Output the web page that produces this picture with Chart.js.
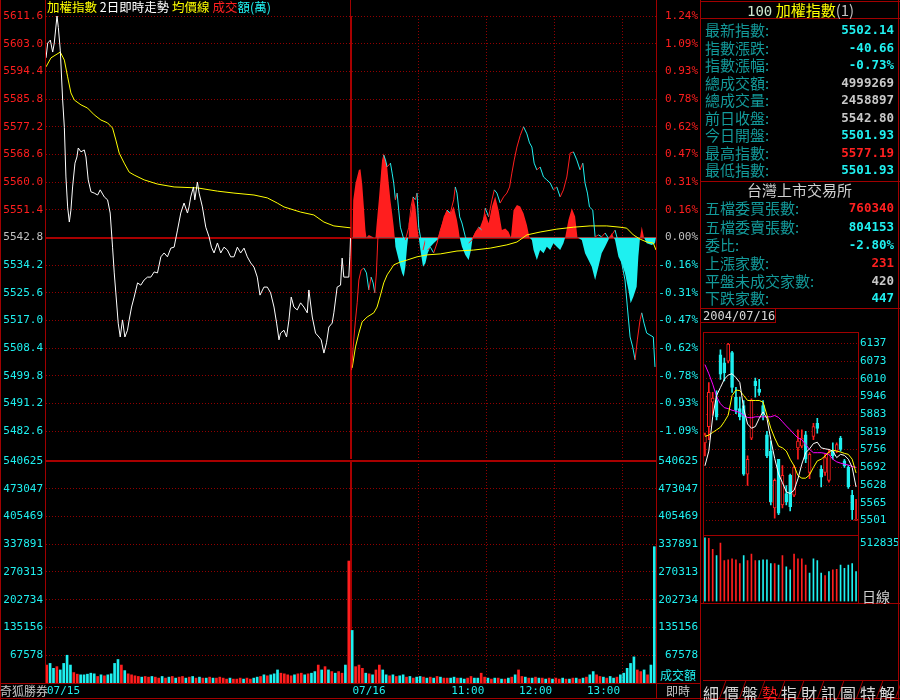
<!DOCTYPE html>
<html><head><meta charset="utf-8">
<script src="https://cdn.jsdelivr.net/npm/chart.js@4.4.1/dist/chart.umd.min.js"></script>
<style>
html,body{margin:0;padding:0;background:#000;}
#wrap{position:relative;width:900px;height:700px;background:#000;overflow:hidden;font-family:'Noto Sans CJK TC','Noto Sans CJK SC',sans-serif;}
canvas{position:absolute;}
.ln{position:absolute;background:#a00000;}
.t{position:absolute;white-space:nowrap;line-height:1;}
.row{position:absolute;left:705px;width:189px;height:17px;display:flex;justify-content:space-between;align-items:center;}
.lb{color:#139a9a;font-size:15px;}
.vl{font-family:'DejaVu Sans Mono',monospace;font-weight:bold;font-size:12.5px;}
.tab{display:inline-block;width:19.6px;height:18px;transform:skewX(-20deg);border-right:1px solid #a00000;box-sizing:border-box;text-align:center;}
.tab span{display:inline-block;transform:skewX(20deg);font-size:16px;line-height:18px;color:#d8d8d8;}
</style></head>
<body><div id="wrap">
<canvas id="pc" width="700" height="470" style="left:0;top:0"></canvas>
<canvas id="vc" width="700" height="254" style="left:0;top:446px"></canvas>
<canvas id="mc" width="200" height="217" style="left:700px;top:325px"></canvas>
<canvas id="mv" width="200" height="82" style="left:700px;top:528px"></canvas>

<!-- frame lines -->
<div class="ln" style="left:0;top:0;width:1px;height:700px"></div>
<div class="ln" style="left:45px;top:0;width:1px;height:683px"></div>
<div class="ln" style="left:350px;top:0;width:1px;height:17px"></div>
<div class="ln" style="left:656px;top:0;width:1px;height:699px"></div>
<div class="ln" style="left:700px;top:0;width:1px;height:700px"></div>
<div class="ln" style="left:898px;top:0;width:1px;height:700px"></div>
<div class="ln" style="left:0;top:683px;width:700px;height:1px"></div>
<div class="ln" style="left:0;top:698px;width:900px;height:1px"></div>
<div class="ln" style="left:700px;top:1px;width:200px;height:1px"></div>
<div class="ln" style="left:700px;top:18px;width:200px;height:1px"></div>
<div class="ln" style="left:700px;top:181px;width:200px;height:1px"></div>
<div class="ln" style="left:700px;top:308px;width:200px;height:1px"></div>
<div class="ln" style="left:700px;top:322px;width:75px;height:1px"></div>
<div class="ln" style="left:775px;top:308px;width:1px;height:15px"></div>
<div class="ln" style="left:703px;top:332px;width:156px;height:1px"></div>
<div class="ln" style="left:703px;top:332px;width:1px;height:271px"></div>
<div class="ln" style="left:858px;top:332px;width:1px;height:271px"></div>
<div class="ln" style="left:703px;top:535px;width:156px;height:1px"></div>
<div class="ln" style="left:700px;top:603px;width:200px;height:1px"></div>

<!-- header -->
<div class="t" style="left:47px;top:1px;font-size:12.5px;">
<span style="color:#ffff00">加權指數</span> <span style="color:#ffffff">2日即時走勢</span> <span style="color:#ffff00">均價線</span> <span style="color:#ff2020">成交</span><span style="color:#20f0f0">額(萬)</span></div>
<div class="t" style="left:0;top:685px;font-size:12px;color:#c8c8c8">奇狐勝券</div>
<div class="t" style="left:666px;top:685px;font-size:12px;color:#c8c8c8">即時</div>
<div class="t" style="left:660px;top:669px;font-size:12px;color:#20f0f0">成交額</div>

<!-- right panel -->
<div class="t" style="left:747px;top:2px;font-size:15px;"><span style="color:#d0e8d0;font-family:'DejaVu Sans Mono',monospace;font-size:14px">100</span> <span style="color:#ffff00">加權指數</span><span style="color:#c0c0c0">(1)</span></div>
<div class="row" style="top:21px"><span class="lb">最新指數:</span><span class="vl" style="color:#20f0f0">5502.14</span></div>
<div class="row" style="top:39px"><span class="lb">指數漲跌:</span><span class="vl" style="color:#20f0f0">-40.66</span></div>
<div class="row" style="top:56px"><span class="lb">指數漲幅:</span><span class="vl" style="color:#20f0f0">-0.73%</span></div>
<div class="row" style="top:74px"><span class="lb">總成交額:</span><span class="vl" style="color:#c8c8c8">4999269</span></div>
<div class="row" style="top:91px"><span class="lb">總成交量:</span><span class="vl" style="color:#c8c8c8">2458897</span></div>
<div class="row" style="top:109px"><span class="lb">前日收盤:</span><span class="vl" style="color:#c8c8c8">5542.80</span></div>
<div class="row" style="top:126px"><span class="lb">今日開盤:</span><span class="vl" style="color:#20f0f0">5501.93</span></div>
<div class="row" style="top:144px"><span class="lb">最高指數:</span><span class="vl" style="color:#ff2020">5577.19</span></div>
<div class="row" style="top:161px"><span class="lb">最低指數:</span><span class="vl" style="color:#20f0f0">5501.93</span></div>
<div class="t" style="left:747px;top:182px;font-size:15px;color:#d0d0d0">台灣上市交易所</div>
<div class="row" style="top:199px"><span class="lb">五檔委買張數:</span><span class="vl" style="color:#ff2020">760340</span></div>
<div class="row" style="top:218px"><span class="lb">五檔委賣張數:</span><span class="vl" style="color:#20f0f0">804153</span></div>
<div class="row" style="top:236px"><span class="lb">委比:</span><span class="vl" style="color:#20f0f0">-2.80%</span></div>
<div class="row" style="top:254px"><span class="lb">上漲家數:</span><span class="vl" style="color:#ff2020">231</span></div>
<div class="row" style="top:272px"><span class="lb">平盤未成交家數:</span><span class="vl" style="color:#c8c8c8">420</span></div>
<div class="row" style="top:289px"><span class="lb">下跌家數:</span><span class="vl" style="color:#20f0f0">447</span></div>
<div class="t" style="left:703px;top:310px;font-size:12px;color:#d8d8d8;font-family:'DejaVu Sans Mono',monospace">2004/07/16</div>
<div class="t" style="left:862px;top:589px;font-size:14px;color:#d0d0d0">日線</div>

<div style="position:absolute;left:703px;top:680px;width:196px;height:18px;border-top:1px solid #a00000;white-space:nowrap;">
<span class="tab"><span>細</span></span><span class="tab"><span>價</span></span><span class="tab"><span>盤</span></span><span class="tab"><span style="color:#ff2020">勢</span></span><span class="tab"><span>指</span></span><span class="tab"><span>財</span></span><span class="tab"><span>訊</span></span><span class="tab"><span>圖</span></span><span class="tab"><span>特</span></span><span class="tab"><span>解</span></span>
</div>
</div>
<script>
// ===== DATA =====
const PREV_CLOSE = 5542.8;
const DAY_LEN = 270; // minutes per session
const priceTicks = [5611.6,5603.0,5594.4,5585.8,5577.2,5568.6,5560.0,5551.4,5542.8,5534.2,5525.6,5517.0,5508.4,5499.8,5491.2,5482.6];
const PRICE_MIN = 5474.0, PRICE_MAX = 5611.6;
const volTicks = [67578,135156,202734,270313,337891,405469,473047,540625];
const VOL_MAX = 540625;
const xGridMinutes = [270,330,390,450,510];
const xLabelMinutes = [0,270,390,450,510];
const xLabelTexts = ['07/15','07/16','11:00','12:00','13:00'];

// Day 1 (07/15) price and average
const day1Min = [0.9,2.4,4.7,6.8,8.2,10.6,11.8,13.5,15.6,17.1,18.5,20,21.5,22.9,24.4,26.5,28.2,29.4,31.8,34.7,36.2,38.2,40.6,43.5,46.5,48.8,52.4,55.3,57.6,59.7,61.2,62.6,64.7,66.5,68.5,70.6,72.9,74.4,76.5,78.8,81.8,84.7,87.6,90.6,93.5,96.5,99.4,102.4,105.3,108.2,111.2,114.1,117.1,120,122.9,125.9,127.3,128.8,131.2,132.4,134.7,136.2,139.1,142.1,145,147.1,149.4,152.4,155.3,158.2,161.2,164.1,167,170,172.9,175.9,178.8,181.8,184.7,187.6,190,193.5,196.5,199.4,202.4,204.7,206.8,208.2,211.2,213.5,215.6,217.6,220,222.9,225.9,228.8,231.8,233.2,236.2,239.1,242.1,244.1,246.5,248.8,250.9,253.8,255.3,258.2,261.2,262.6,264.1,268.5,269.4,270];
const day1Price = [5598.6,5603.2,5604.1,5600.4,5603.2,5611.6,5608.0,5601.0,5585.5,5577.0,5561.6,5552.3,5547.6,5551.3,5558.5,5565.9,5567.8,5570.6,5569.4,5570.0,5567.8,5560.7,5557.0,5556.6,5556.0,5557.6,5555.4,5554.5,5550.4,5539.8,5531.8,5525.6,5516.2,5511.9,5517.2,5511.9,5514.0,5517.2,5521.2,5524.3,5528.7,5528.0,5529.6,5530.5,5530.5,5532.1,5531.8,5536.8,5538.0,5536.8,5539.5,5539.8,5545.1,5550.4,5553.5,5550.4,5552.3,5555.4,5558.5,5554.5,5560.0,5556.6,5552.3,5546.0,5543.0,5539.8,5538.0,5541.1,5538.0,5539.8,5538.9,5536.8,5536.8,5539.8,5538.0,5539.5,5536.8,5534.9,5533.6,5530.5,5524.9,5527.4,5527.4,5525.6,5521.2,5516.2,5511.0,5513.1,5514.0,5511.9,5517.2,5524.3,5521.2,5520.3,5522.5,5521.2,5519.4,5526.5,5518.1,5513.1,5511.9,5511.0,5506.9,5510.1,5515.0,5516.2,5519.4,5527.4,5528.0,5536.4,5530.5,5530.5,5536.8,5542.6];
const avg1Min = [0.9,5.3,13.5,17.1,20,22.9,25.9,31.8,37.6,43.5,49.4,55.3,59.7,62.6,65.6,70,74.4,78.8,87.6,99.4,114.1,134.7,152.4,167,184.7,196.5,205.3,211.2,225.9,237.6,246.5,255.3,270];
const avg1Price = [5595.8,5598.6,5600.4,5597.9,5592.7,5587.7,5585.5,5584.0,5583.0,5580.9,5579.3,5578.4,5576.8,5573.1,5569.0,5565.9,5563.1,5562.2,5560.7,5559.4,5558.5,5558.2,5557.2,5556.6,5556.0,5555.1,5553.5,5552.3,5550.7,5549.8,5547.6,5546.4,5545.8];

// Day 2 (07/16) price and average
const day2Min = [0.9,2.4,4.4,5.9,7.4,9.4,11.8,14.1,16.2,18.2,20,21.5,22.9,24.1,25.9,27.9,29.4,30.9,32.4,35.3,36.8,38.2,39.7,41.2,42.6,44.1,46.5,48.5,51.5,53.5,55.3,57.3,58.8,60.3,61.8,64.1,66.2,68.2,70.6,73.5,76.5,79.4,82.4,85.3,88.2,91.2,92.6,94.1,96.5,98.5,101.5,104.4,107.3,110.3,113.2,116.2,119.1,122.1,125,127.1,129.4,132.3,135.3,138.2,140.6,142.6,144.7,147.1,150,152.9,155.9,158.2,160.3,162.3,164.7,167.6,170.6,173.5,176.5,179.4,182.3,185.3,188.2,191.2,194.1,197,200,202.9,205.3,207.3,209.4,211.2,214.1,216.2,219.1,222,225,227.9,230.9,233.8,236.8,239.7,242.6,244.7,247.1,249.4,251.5,253.5,255.9,257.4,259.4,261.8,264.7,267.6,269.1];
const day2Price = [5501.6,5508.8,5517.2,5522.5,5529.6,5532.7,5533.3,5531.8,5526.5,5530.5,5528.7,5525.6,5531.8,5542.0,5549.2,5562.8,5568.4,5566.9,5564.7,5565.9,5562.8,5559.7,5554.5,5556.6,5551.3,5546.0,5543.0,5542.0,5546.0,5552.3,5555.4,5554.5,5556.6,5546.0,5543.0,5538.9,5542.0,5538.9,5539.8,5538.0,5541.1,5545.1,5548.2,5551.3,5550.4,5554.5,5558.5,5556.6,5549.2,5547.3,5543.0,5541.1,5542.0,5544.2,5546.0,5545.1,5551.9,5549.2,5554.5,5557.6,5556.6,5553.5,5555.4,5556.6,5558.5,5562.8,5566.9,5570.9,5574.5,5577.2,5575.0,5572.2,5570.9,5565.9,5563.8,5564.7,5561.6,5560.7,5559.7,5557.6,5558.5,5555.4,5557.6,5561.6,5569.0,5569.4,5566.9,5563.8,5565.9,5559.7,5556.6,5552.3,5551.3,5543.0,5543.6,5543.0,5544.2,5542.6,5543.6,5545.1,5541.1,5534.9,5529.6,5521.2,5511.9,5508.8,5504.8,5511.0,5517.2,5519.4,5516.2,5513.1,5512.5,5511.9,5502.6];
const avg2Min = [1.5,4.4,7.4,10.3,14.7,20.6,23.5,26.5,29.4,32.4,35.3,38.2,44.1,50,58.8,67.6,79.4,94.1,108.8,123.5,138.2,147.1,155.9,167.6,182.3,197,211.8,226.5,238.2,244.1,250,255.9,261.8,267.6,270];
const avg2Price = [5502.3,5508.8,5513.1,5516.6,5518.1,5519.4,5521.2,5524.9,5528.7,5531.2,5532.7,5534.3,5535.2,5535.8,5536.8,5537.4,5537.7,5538.6,5538.9,5539.5,5540.5,5541.4,5543.6,5544.5,5545.4,5546.0,5546.4,5546.4,5546.0,5545.7,5543.6,5542.3,5541.4,5541.1,5538.9];

// Day 2 buy/sell strength histogram (drawn around previous close)
const histMin = [0.9,1.8,2.4,4.4,7.4,8.8,10.3,11.8,13.2,14.1,16.2,20.6,22.1,22.9,25,26.5,27.9,29.4,30.9,32.4,33.8,35.3,36.8,38.2,39.1,39.7,42.6,45.6,47.1,48.5,50,50.9,51.5,53.5,55.3,57.3,59.4,60.3,61.8,64.1,66.2,68.2,70.6,73.5,76.5,77.3,79.4,82.4,85.3,88.2,91.2,94.1,95.6,96.5,98.5,101.5,104.4,106.5,107.9,110.3,114.7,119.1,122.1,125,127.9,130.9,133.8,136.8,139.7,141.8,144.1,147.1,150,152.9,155.9,158.2,160.3,161.8,164.7,167.6,170.6,173.5,176.5,179.4,182.3,185.3,188.2,189.7,192.6,195.6,198.5,200.6,204.4,207.3,210.3,213.2,216.2,219.1,222,225,227.9,230.9,233.8,236.8,239.7,242.6,245.6,247.6,250,252.9,254.4,255.9,257.4,259.4,261.8,266.2,269.1,270];
const histVal = [5542.8,5542.8,5554.4,5559.6,5563.8,5564.0,5559.6,5552.4,5545.1,5542.8,5543.6,5542.8,5542.8,5546.2,5554.4,5560.7,5566.9,5569.0,5566.9,5564.8,5559.6,5554.4,5550.3,5546.2,5542.8,5539.9,5535.8,5531.7,5530.6,5533.7,5539.9,5542.8,5547.2,5550.3,5555.5,5552.4,5545.1,5542.8,5538.9,5533.7,5534.8,5537.9,5539.9,5541.0,5542.0,5542.8,5545.1,5549.3,5551.3,5550.3,5552.4,5548.2,5545.1,5542.8,5539.9,5537.4,5535.8,5538.9,5542.8,5544.6,5546.2,5550.3,5547.2,5552.4,5555.5,5551.3,5545.1,5545.6,5544.6,5542.8,5551.3,5552.9,5552.4,5550.3,5546.7,5542.8,5542.0,5538.9,5535.8,5538.9,5537.9,5539.9,5538.9,5541.0,5539.9,5538.9,5541.0,5542.8,5548.2,5551.9,5549.3,5542.8,5542.0,5537.9,5535.8,5533.7,5529.6,5533.7,5537.9,5539.9,5542.0,5544.1,5542.0,5536.8,5534.8,5531.7,5526.5,5522.4,5524.4,5527.5,5536.8,5542.8,5546.2,5542.8,5541.0,5540.5,5541.0,5542.8];

// Volume per 3-minute bucket (dir: 1 = up/red, -1 = down/cyan)
const VOL_BUCKET = 3;
const day1Vol = [43700,47700,35800,39800,31800,47700,67600,43700,25400,21500,19900,19900,21500,23900,22300,15900,19900,17500,19900,22300,47700,57200,43700,30200,22300,19900,17500,15900,14300,15900,14300,15900,14300,11900,15900,11900,14300,15900,11900,14300,15900,11900,14300,15900,11900,14300,11900,11900,14300,11900,11900,14300,11900,9500,11900,9500,9500,11900,9500,11900,9500,11900,14300,15900,19900,17500,19900,22300,31800,23900,22300,19900,17500,19900,22300,23900,19900,22300,23900,27800,43700,31800,39800,31800,27800,23900,27800,23900,43700,297000];
const day1Dir = [1,-1,-1,1,-1,-1,-1,-1,1,1,-1,-1,-1,-1,-1,1,-1,1,-1,-1,-1,-1,1,-1,1,1,1,1,-1,1,1,-1,1,1,-1,1,-1,1,-1,1,1,-1,1,-1,1,-1,1,-1,1,-1,1,1,1,1,-1,1,1,1,-1,1,1,-1,-1,1,-1,1,-1,-1,-1,1,1,1,1,-1,1,1,-1,1,-1,-1,1,-1,1,-1,1,-1,1,1,-1,1];
const day2Vol = [128000,39800,43700,35800,23900,22300,19900,31800,43700,31800,19900,17500,19900,15900,17500,19900,14300,15900,11900,14300,15900,14300,11900,14300,11900,15900,14300,11900,11900,11900,14300,11900,11900,9500,11900,15900,11900,11900,23900,14300,11900,9500,11900,11900,9500,9500,11900,14300,19900,31800,15900,14300,11900,11900,14300,11900,11900,9500,11900,9500,11900,9500,11900,9500,9500,11900,11900,9500,11900,14300,19900,27800,19900,15900,14300,11900,15900,11900,14300,19900,23900,35800,47700,63600,31800,27800,31800,19900,43700,332000];
const day2Dir = [-1,1,1,1,-1,1,-1,1,1,-1,-1,1,-1,1,-1,-1,1,-1,1,-1,-1,1,-1,1,-1,1,-1,1,1,-1,-1,1,-1,-1,1,1,-1,-1,1,1,-1,1,-1,1,-1,1,-1,1,-1,1,1,-1,1,-1,1,-1,1,-1,1,-1,1,1,-1,1,-1,1,-1,1,-1,1,-1,-1,1,1,-1,1,-1,-1,1,-1,-1,-1,-1,-1,1,1,-1,1,-1,-1];

// Daily candles (mini chart)
const miniOpen  = [5780,5838,5926,5932,6096,6067,6073,6104,5944,5903,5914,5668,5797,6002,5973,5914,5809,5750,5546,5721,5557,5598,5663,5592,5762,5768,5809,5674,5803,5850,5686,5674,5645,5750,5750,5797,5715,5692,5592,5501.93];
const miniHigh  = [5815,5996,5961,5967,6114,6084,6137,6108,5979,5944,5932,5733,5938,6012,6008,5932,5821,5786,5651,5721,5698,5627,5668,5698,5827,5827,5821,5745,5850,5868,5698,5739,5756,5780,5780,5803,5721,5698,5610,5577.19];
const miniLow   = [5733,5791,5879,5862,6008,6002,6067,5961,5885,5862,5663,5627,5791,5944,5950,5862,5727,5557,5510,5522,5546,5557,5536,5587,5721,5762,5709,5651,5791,5815,5622,5663,5639,5721,5745,5750,5692,5616,5505,5501.93];
const miniClose = [5809,5961,5941,5873,6026,6032,6134,5979,5897,5873,5668,5721,5932,5985,5961,5885,5733,5569,5645,5528,5663,5569,5551,5692,5786,5797,5721,5739,5838,5832,5657,5727,5745,5733,5774,5756,5698,5622,5540,5502.14];
const miniMA5  = [5697.7,5750.4,5873.4,5949.6,5978.8,6008.1,6023.3,6028.0,6014.0,5996.4,5902.7,5847.7,5832.4,5838.3,5867.6,5891.0,5867.6,5791.4,5723.5,5668.4,5636.8,5604.0,5598.2,5609.9,5650.9,5703.6,5744.6,5758.6,5777.4,5782.1,5762.1,5758.6,5756.3,5750.4,5727.0,5738.7,5735.2,5721.2,5691.9,5621.6];
const miniMA10 = [5803.2,5807.9,5817.2,5826.6,5836.0,5855.9,5879.3,5949.6,5969.5,5967.4,5949.6,5932.0,5932.0,5932.0,5932.0,5926.1,5879.3,5832.4,5797.3,5768.0,5762.1,5750.4,5721.2,5697.7,5662.6,5653.2,5653.2,5664.9,5691.9,5715.3,5721.2,5732.9,5746.9,5754.0,5750.4,5746.9,5742.2,5738.7,5721.2,5672.0];
const miniMA20 = [6060.8,6028.0,5990.6,5946.1,5920.3,5906.2,5902.7,5896.9,5893.3,5888.7,5878.1,5871.1,5869.9,5873.4,5873.4,5873.4,5873.4,5873.4,5878.1,5871.1,5855.9,5840.6,5826.6,5811.3,5797.3,5791.4,5773.9,5756.3,5744.6,5744.6,5744.6,5742.2,5738.7,5721.2,5711.8,5707.1,5703.6,5700.2,5695.4,5691.9];
const miniVol = [560000,554000,457000,402000,513000,360000,366000,374000,366000,333000,402000,360000,416000,360000,360000,366000,366000,333000,333000,319000,402000,305000,277000,416000,374000,374000,319000,249000,374000,360000,249000,227000,263000,277000,283000,319000,291000,319000,333000,263000];
const miniVolDir = [-1,1,1,-1,1,1,1,1,1,1,-1,1,1,1,-1,-1,-1,-1,1,-1,1,-1,-1,1,1,1,1,-1,-1,-1,-1,1,-1,1,1,-1,-1,-1,-1,-1];
const miniTicks = [5501,5565,5628,5692,5756,5819,5883,5946,6010,6073,6137];
const MINI_MIN = 5455, MINI_MAX = 6172;
const MINI_VOL_TICKS = [512835];
const MINI_VOL_MAX = 570000;

// ===== STYLE =====
const RED = '#ff1e1e', CYAN = '#1ef0f0', GRAY = '#c0c0c0', YEL = '#ffff00';
const GRID = '#920000', SOLID = '#a80000';
const MONO = "'DejaVu Sans Mono', monospace";
Chart.defaults.font.family = MONO;
Chart.defaults.font.size = 11;

function tickColor(v){ return Math.abs(v - PREV_CLOSE) < 0.05 ? GRAY : (v > PREV_CLOSE ? RED : CYAN); }
const isPrev = c => c.tick && Math.abs(c.tick.value - PREV_CLOSE) < 0.05;
const isDay = c => c.tick && c.tick.value === DAY_LEN;
const pts = (xs, ys, off) => xs.map((m, i) => ({x: m + off, y: ys[i]}));
const common = {responsive:false, animation:false, devicePixelRatio:1, events:[],
  plugins:{legend:{display:false}, tooltip:{enabled:false}}};

const xScale = (extra) => Object.assign({
  type:'linear', min:0, max:2*DAY_LEN, offset:false,
  ticks:{display:false},
  grid:{drawTicks:false, offset:false, color: c => isDay(c) ? SOLID : GRID, lineWidth: c => isDay(c) ? 2 : 1},
  border:{display:false, dash: c => isDay(c) ? [] : [1,2]},
  afterBuildTicks: s => { s.ticks = xGridMinutes.map(v => ({value:v})); },
  afterFit: s => { s.height = 0; }
}, extra || {});

// ===== PRICE CHART =====
new Chart(document.getElementById('pc'), {
  type:'line',
  data:{datasets:[
    {data: pts(day1Min, day1Price, 0), borderColor:'#ffffff', borderWidth:1, pointRadius:0, order:0},
    {data: pts(avg1Min, avg1Price, 0), borderColor:YEL, borderWidth:1, pointRadius:0, order:1},
    {data: pts(day2Min, day2Price, DAY_LEN), borderWidth:1, pointRadius:0, order:0,
      borderColor: RED,
      segment:{borderColor: c => c.p1.parsed.y > c.p0.parsed.y ? RED : (c.p1.parsed.y < c.p0.parsed.y ? CYAN : '#ffffff')}},
    {data: pts(avg2Min, avg2Price, DAY_LEN), borderColor:YEL, borderWidth:1, pointRadius:0, order:1},
    {data: pts(histMin, histVal, DAY_LEN), borderWidth:0, borderColor:'rgba(0,0,0,0)', pointRadius:0, order:3,
      fill:{target:{value:PREV_CLOSE}, above:RED, below:CYAN}}
  ]},
  options: Object.assign({}, common, {
    layout:{padding:{top:16, bottom:11, left:0, right:2}},
    scales:{
      x: xScale(),
      y:{position:'left', min:PRICE_MIN, max:PRICE_MAX,
        afterBuildTicks: s => { s.ticks = priceTicks.map(v => ({value:v})); },
        afterFit: s => { s.width = 45; },
        ticks:{autoSkip:false, padding:2, color: c => tickColor(c.tick.value), callback: v => v.toFixed(1)},
        grid:{drawTicks:false, color: c => isPrev(c) ? SOLID : GRID, lineWidth: c => isPrev(c) ? 2 : 1},
        border:{display:true, color:SOLID, dash: c => isPrev(c) ? [] : [1,2]}},
      y2:{position:'right', min:PRICE_MIN, max:PRICE_MAX,
        afterBuildTicks: s => { s.ticks = priceTicks.map(v => ({value:v})); },
        afterFit: s => { s.width = 42; },
        ticks:{autoSkip:false, crossAlign:'far', color: c => tickColor(c.tick.value),
          callback: v => ((v - PREV_CLOSE) / PREV_CLOSE * 100).toFixed(2) + '%'},
        grid:{display:false, drawTicks:false},
        border:{display:true, color:SOLID}}
    }
  })
});

// ===== VOLUME CHART =====
const xLabelPlugin = {
  id:'xlab',
  afterDraw(chart){
    const {ctx, chartArea, scales} = chart;
    ctx.save();
    ctx.font = '11px ' + MONO;
    ctx.fillStyle = CYAN;
    ctx.textBaseline = 'middle';
    xLabelMinutes.forEach((m, i) => {
      const t = xLabelTexts[i];
      const isDate = t.indexOf('/') >= 0;
      ctx.textAlign = isDate ? 'left' : 'right';
      ctx.fillText(t, scales.x.getPixelForValue(m) + (isDate ? 2 : -2), chartArea.bottom + 8);
    });
    ctx.restore();
  }
};
const volBars = (vals, dirs, off) => ({
  data: vals.map((v, i) => ({x: off + VOL_BUCKET * i + VOL_BUCKET / 2, y: v})),
  backgroundColor: c => dirs[c.dataIndex] > 0 ? RED : CYAN,
  barThickness: 2, grouped:false
});
new Chart(document.getElementById('vc'), {
  type:'bar',
  data:{datasets:[volBars(day1Vol, day1Dir, 0), volBars(day2Vol, day2Dir, DAY_LEN)]},
  options: Object.assign({}, common, {
    layout:{padding:{top:15, bottom:17, left:0, right:2}},
    scales:{
      x: xScale(),
      y:{position:'left', min:0, max:VOL_MAX,
        afterBuildTicks: s => { s.ticks = volTicks.map(v => ({value:v})); },
        afterFit: s => { s.width = 45; },
        ticks:{autoSkip:false, padding:2, color:CYAN, callback: v => String(v)},
        grid:{drawTicks:false, color: c => (c.tick && c.tick.value === VOL_MAX) ? SOLID : GRID, lineWidth: c => (c.tick && c.tick.value === VOL_MAX) ? 2 : 1},
        border:{display:true, color:SOLID, dash: c => (c.tick && c.tick.value === VOL_MAX) ? [] : [1,2]}},
      y2:{position:'right', min:0, max:VOL_MAX,
        afterBuildTicks: s => { s.ticks = volTicks.map(v => ({value:v})); },
        afterFit: s => { s.width = 42; },
        ticks:{autoSkip:false, crossAlign:'far', color:CYAN, callback: v => String(v)},
        grid:{display:false, drawTicks:false},
        border:{display:true, color:SOLID}}
    }
  }),
  plugins:[xLabelPlugin]
});

// ===== MINI DAILY CANDLE CHART =====
const miniLabels = miniOpen.map((_, i) => i + 1);
const up = i => miniClose[i] >= miniOpen[i];
new Chart(document.getElementById('mc'), {
  type:'bar',
  data:{labels: miniLabels, datasets:[
    {type:'line', data: miniMA5, borderColor:'#ffffff', borderWidth:1, pointRadius:0, order:0},
    {type:'line', data: miniMA10, borderColor:YEL, borderWidth:1, pointRadius:0, order:0},
    {type:'line', data: miniMA20, borderColor:'#ff00ff', borderWidth:1, pointRadius:0, order:0},
    {data: miniOpen.map((o, i) => [o, miniClose[i]]), barThickness:3, grouped:false, minBarLength:1, order:1,
      backgroundColor: c => up(c.dataIndex) ? '#000000' : CYAN,
      borderColor: c => up(c.dataIndex) ? RED : CYAN, borderWidth:1, borderSkipped:false},
    {data: miniLow.map((l, i) => [l, miniHigh[i]]), barThickness:1, grouped:false, order:2,
      backgroundColor: c => up(c.dataIndex) ? RED : CYAN}
  ]},
  options: Object.assign({}, common, {
    layout:{padding:{top:7, bottom:7, left:3, right:0}},
    scales:{
      x:{display:true, offset:true, ticks:{display:false}, grid:{display:false, drawTicks:false}, border:{display:false}, afterFit: s => { s.height = 0; }},
      y:{position:'right', min:MINI_MIN, max:MINI_MAX,
        afterBuildTicks: s => { s.ticks = miniTicks.map(v => ({value:v})); },
        afterFit: s => { s.width = 42; },
        ticks:{autoSkip:false, padding:2, color:CYAN, callback: v => String(v)},
        grid:{drawTicks:false, color:GRID}, border:{display:false, dash:[1,2]}}
    }
  })
});

// ===== MINI VOLUME =====
new Chart(document.getElementById('mv'), {
  type:'bar',
  data:{labels: miniLabels, datasets:[
    {data: miniVol, barThickness:1, backgroundColor: c => miniVolDir[c.dataIndex] > 0 ? RED : CYAN}
  ]},
  options: Object.assign({}, common, {
    layout:{padding:{top:7, bottom:7, left:3, right:0}},
    scales:{
      x:{display:true, offset:true, ticks:{display:false}, grid:{display:false, drawTicks:false}, border:{display:false}, afterFit: s => { s.height = 0; }},
      y:{position:'right', min:0, max:MINI_VOL_MAX,
        afterBuildTicks: s => { s.ticks = MINI_VOL_TICKS.map(v => ({value:v})); },
        afterFit: s => { s.width = 42; },
        ticks:{autoSkip:false, padding:2, color:CYAN, callback: v => String(v)},
        grid:{display:false, drawTicks:false}, border:{display:false}}
    }
  })
});
</script>
</body></html>
